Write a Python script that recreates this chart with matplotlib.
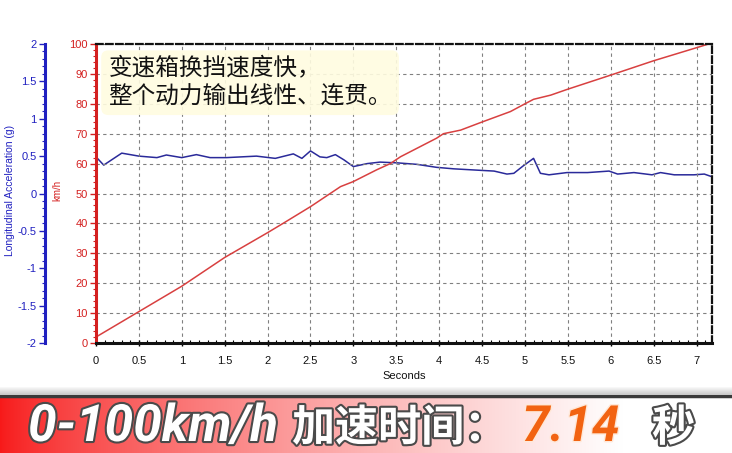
import matplotlib

matplotlib.use("Agg")
import matplotlib.pyplot as plt  # noqa: E402
import matplotlib.patheffects as pe  # noqa: E402
import numpy as np  # noqa: E402
from matplotlib.ticker import MultipleLocator  # noqa: E402

# speed trace (km/h)
t_speed = [0, 0.5, 1.0, 1.5, 2.0, 2.18, 2.5, 2.73, 2.85, 3.0, 3.27, 3.43, 3.55,
           3.97, 4.05, 4.25, 4.48, 4.83, 5.0, 5.1, 5.3, 5.49, 6.0, 6.5, 6.97, 7.14]
speed = [2, 10.5, 19, 28.6, 36.9, 40, 45.6, 50, 52.3, 54, 57.9, 60, 62.3,
         68.5, 70, 71.2, 73.7, 77.4, 80, 81.5, 82.9, 84.8, 89.6, 94.4, 98.5, 100]

# longitudinal acceleration (g)
t_acc = [0, 0.09, 0.3, 0.5, 0.71, 0.82, 1.0, 1.17, 1.33, 1.52, 1.87, 2.09, 2.3,
         2.4, 2.5, 2.61, 2.69, 2.79, 2.89, 3.0, 3.16, 3.31, 3.51, 3.74, 3.97,
         4.17, 4.48, 4.64, 4.79, 4.87, 4.98, 5.1, 5.18, 5.28, 5.49, 5.73, 5.98,
         6.08, 6.27, 6.48, 6.58, 6.74, 6.97, 7.09, 7.19]
acc = [0.49, 0.38, 0.54, 0.50, 0.48, 0.515, 0.48, 0.52, 0.48, 0.48, 0.50, 0.47, 0.53,
       0.47, 0.57, 0.49, 0.48, 0.52, 0.45, 0.36, 0.40, 0.42, 0.41, 0.39, 0.35,
       0.33, 0.31, 0.30, 0.26, 0.27, 0.37, 0.47, 0.27, 0.25, 0.28, 0.28, 0.30,
       0.26, 0.28, 0.25, 0.28, 0.25, 0.25, 0.26, 0.22]

x_ticks = np.arange(0, 7.01, 0.5)
x_labels = ["0", "0.5", "1", "1.5", "2", "2.5", "3", "3.5", "4", "4.5", "5",
            "5.5", "6", "6.5", "7"]
kmh_ticks = np.arange(0, 101, 10)
g_ticks = np.arange(-2, 2.01, 0.5)
g_labels = ["-2", "-1.5", "-1", "-0.5", "0", "0.5", "1", "1.5", "2"]

note = "变速箱换挡速度快，\n整个动力输出线性、连贯。"
banner_speed = "0-100km/h"
banner_word = "加速时间："
banner_time = "7.14"
banner_unit = "秒"

RED, BLUE, INK = "#d42020", "#2020c0", "#111111"
LINE_RED, LINE_BLUE = "#d84040", "#2a2a9a"

plt.rcParams["font.family"] = ["Liberation Sans", "DejaVu Sans"]

fig = plt.figure(figsize=(7.32, 4.53), dpi=100)
ax = fig.add_axes([96 / 732, 1 - 343 / 453, 616 / 732, 299 / 453])
ax2 = ax.twinx()

ax.set_xlim(0, 7.18)
ax.set_ylim(0, 100)
ax2.set_ylim(-2, 2)

ax2.plot(t_acc, acc, color=LINE_BLUE, lw=1.1)
ax.plot(t_speed, speed, color=LINE_RED, lw=1.1)
ax.set_zorder(ax2.get_zorder() + 1)
ax.patch.set_visible(False)

# grid and ticks
ax.set_xticks(x_ticks)
ax.set_xticklabels(x_labels, fontsize=8, color=INK)
ax.set_yticks(kmh_ticks)
ax.set_yticklabels([str(v) for v in kmh_ticks], fontsize=8, color=RED)
ax.xaxis.set_minor_locator(MultipleLocator(0.1))
ax.yaxis.set_minor_locator(MultipleLocator(2))
ax.grid(True, which="major", color="#808080", linestyle=(0, (3, 3)), lw=0.8)
ax.tick_params(axis="x", which="major", length=4, width=1, direction="inout", pad=7)
ax.tick_params(axis="x", which="minor", length=2.5, width=0.8, direction="in")
ax.tick_params(axis="y", which="major", length=4, width=1, color=RED, pad=2)
ax.tick_params(axis="y", which="minor", length=2, width=0.8, color=RED)

ax.spines["left"].set_color(RED)
ax.spines["left"].set_linewidth(2.2)
ax.spines["bottom"].set_color(INK)
ax.spines["bottom"].set_linewidth(2.2)
for side in ("top", "right"):
    ax.spines[side].set_color(INK)
    ax.spines[side].set_linewidth(1.6)
    ax.spines[side].set_linestyle((0, (3, 1.5)))

ax.set_xlabel("Seconds", fontsize=8, color=INK, labelpad=4)
ax.set_ylabel("km/h", fontsize=7, color=RED)
ax.yaxis.set_label_coords(-0.055, 0.51)

# blue acceleration axis, moved out to the left
ax2.yaxis.set_ticks_position("left")
ax2.yaxis.set_label_position("left")
ax2.spines["left"].set_position(("axes", -0.083))
ax2.spines["left"].set_visible(True)
ax2.spines["left"].set_color(BLUE)
ax2.spines["left"].set_linewidth(2.2)
for side in ("right", "top", "bottom"):
    ax2.spines[side].set_visible(False)
ax2.set_yticks(g_ticks)
ax2.set_yticklabels(g_labels, fontsize=8, color=BLUE)
ax2.yaxis.set_minor_locator(MultipleLocator(0.1))
ax2.tick_params(axis="y", which="major", length=4, width=1, color=BLUE, pad=2)
ax2.tick_params(axis="y", which="minor", length=2, width=0.8, color=BLUE)
ax2.set_ylabel("Longitudinal Acceleration (g)", fontsize=7.5, color=BLUE)
ax2.yaxis.set_label_coords(-0.131, 0.51)

ax.text(0.02, 0.955, note, transform=ax.transAxes, ha="left", va="top",
        fontsize=17, color="#111111", linespacing=1.25,
        family=["Noto Sans CJK SC", "DejaVu Sans"], zorder=5,
        bbox=dict(boxstyle="round,pad=0.3", fc="#fffce0", ec="none", alpha=0.9))

# bottom banner with red -> white gradient
bax = fig.add_axes([0, 0, 1, 58 / 453])
grad = np.linspace(0, 1, 400)
fade = np.clip(grad / 0.85, 0, 1) ** 0.75
rgb = np.zeros((1, 400, 3))
rgb[0, :, 0] = 0.97 + 0.03 * fade
rgb[0, :, 1] = 0.10 + 0.90 * fade
rgb[0, :, 2] = 0.10 + 0.90 * fade
bax.imshow(rgb, aspect="auto", extent=(0, 1, 0, 1))
bax.set_xlim(0, 1)
bax.set_ylim(0, 1)
bax.axis("off")
bax.axhline(0.985, color="#3a3a3a", lw=2.5)
shadow = fig.add_axes([0, 58 / 453, 1, 8 / 453])
sh = np.linspace(0.78, 1, 20).reshape(-1, 1)
shadow.imshow(np.repeat(sh, 2, axis=1), cmap="gray", vmin=0, vmax=1,
              aspect="auto", extent=(0, 1, 0, 1), origin="lower")
shadow.axis("off")

stroke = [pe.withStroke(linewidth=3, foreground="#4a4a4a")]
latin = ["Roboto", "DejaVu Sans"]
cjk = ["Noto Sans CJK SC", "DejaVu Sans"]
fig.text(28 / 732, 12 / 453, banner_speed, fontsize=37, fontweight="bold",
         style="italic", color="white", family=latin, path_effects=stroke)
fig.text(292 / 732, 12 / 453, banner_word, fontsize=31, fontweight="bold",
         color="white", family=cjk, path_effects=stroke)
fig.text(522 / 732, 12 / 453, banner_time, fontsize=36, fontweight="bold",
         style="italic", color="#f26312", family=latin,
         path_effects=[pe.withStroke(linewidth=2, foreground="#ffe8d8")])
fig.text(652 / 732, 12 / 453, banner_unit, fontsize=31, fontweight="bold",
         color="white", family=cjk, path_effects=stroke)

fig.savefig("out.png", dpi=100)
